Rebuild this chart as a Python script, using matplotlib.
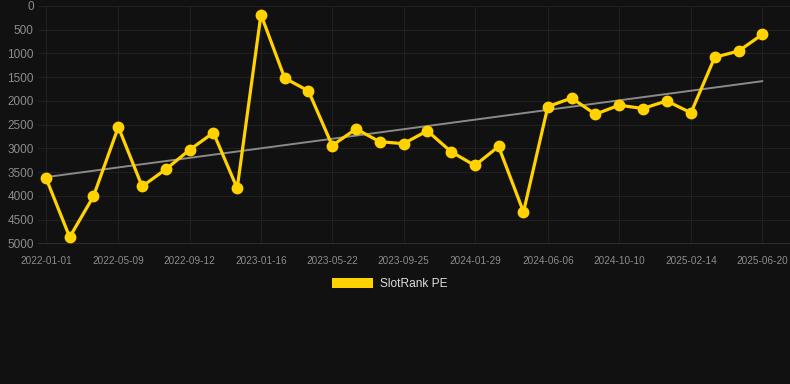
import numpy as np
import pandas as pd
import matplotlib
matplotlib.use("Agg")
import matplotlib.pyplot as plt
import matplotlib.dates as mdates
from matplotlib.patches import Patch

# Data (rank, lower is better)
dates = ["2022-01-01", "2022-02-12", "2022-03-26", "2022-05-09", "2022-06-20",
         "2022-08-01", "2022-09-12", "2022-10-24", "2022-12-05", "2023-01-16",
         "2023-02-27", "2023-04-10", "2023-05-22", "2023-07-03", "2023-08-14",
         "2023-09-25", "2023-11-06", "2023-12-18", "2024-01-29", "2024-03-11",
         "2024-04-24", "2024-06-06", "2024-07-18", "2024-08-29", "2024-10-10",
         "2024-11-21", "2025-01-02", "2025-02-14", "2025-03-28", "2025-05-09",
         "2025-06-20"]
ranks = [3620, 4870, 4010, 2550, 3800, 3440, 3030, 2670, 3840, 180,
         1520, 1790, 2940, 2590, 2860, 2900, 2630, 3070, 3360, 2960,
         4340, 2120, 1940, 2280, 2090, 2160, 2000, 2250, 1080, 950,
         600]
tick_labels = ["2022-01-01", "2022-05-09", "2022-09-12", "2023-01-16",
               "2023-05-22", "2023-09-25", "2024-01-29", "2024-06-06",
               "2024-10-10", "2025-02-14", "2025-06-20"]
y_ticks = [0, 500, 1000, 1500, 2000, 2500, 3000, 3500, 4000, 4500, 5000]

plt.rcParams['font.family'] = ['Liberation Sans', 'DejaVu Sans']

x = pd.to_datetime(dates)
xn = mdates.date2num(x)

fig = plt.figure(figsize=(7.9, 3.84), dpi=100, facecolor='#111111')
ax = fig.add_axes([38 / 790, 1 - 243.3 / 384, 1 - 38 / 790, (243.3 - 6) / 384])
ax.set_facecolor('#111111')

# trend line (linear fit)
k, b = np.polyfit(xn, ranks, 1)
ax.plot(x[[0, -1]], k * xn[[0, -1]] + b, color='#8a8a8a', lw=1.4, zorder=2)

ax.plot(x, ranks, color='#FFD200', lw=2.3, marker='o', ms=7.5, zorder=3)

ax.set_ylim(5000, 0)
ax.set_yticks(y_ticks)
ax.set_xlim(mdates.date2num(pd.Timestamp("2022-01-01")) - 14,
            mdates.date2num(pd.Timestamp("2025-06-20")) + 49)
ax.set_xticks(pd.to_datetime(tick_labels))
ax.set_xticklabels(tick_labels)

ax.grid(True, color='#202020', lw=0.8)
ax.set_axisbelow(True)
for s in ['top', 'right', 'left']:
    ax.spines[s].set_visible(False)
ax.spines['bottom'].set_color('#2c2c2c')
ax.tick_params(axis='x', length=0, pad=9, labelsize=7.2, labelcolor='#8c8c8c')
ax.tick_params(axis='y', length=0, pad=3, labelsize=8.5, labelcolor='#8c8c8c')

handle = Patch(facecolor='#FFD200', edgecolor='none')
fig.legend([handle], ['SlotRank PE'], loc='center', bbox_to_anchor=(390 / 790, 1 - 284 / 384),
           frameon=False, fontsize=8.6, labelcolor='#dddddd', handlelength=3.4,
           handleheight=0.9, handletextpad=0.6)

fig.savefig('out.png', dpi=100, facecolor=fig.get_facecolor())
